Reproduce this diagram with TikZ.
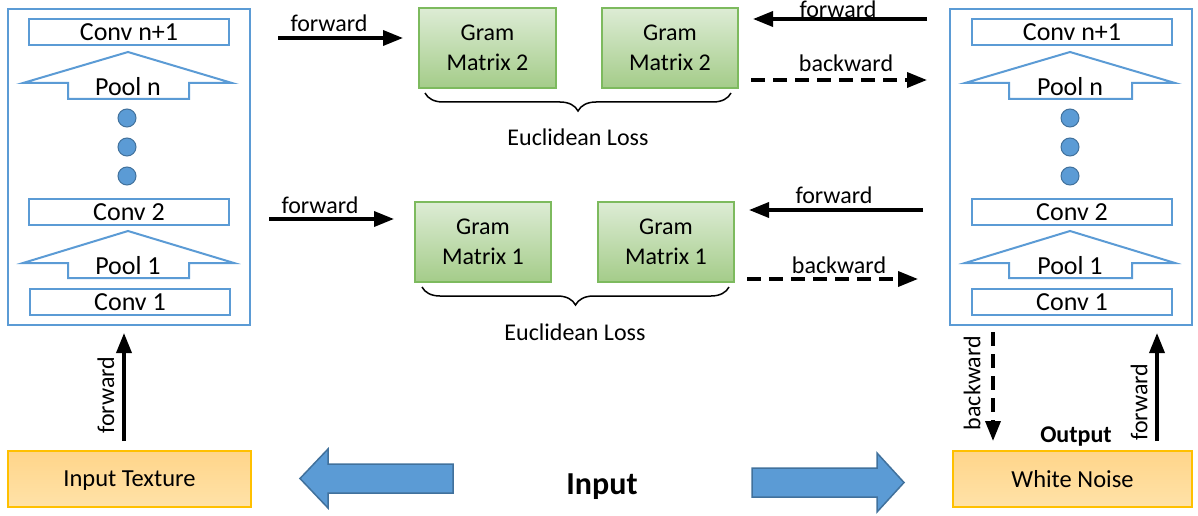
\documentclass[tikz,border=0pt]{standalone}
\usepackage{fontspec}
\setmainfont{Carlito}
\usetikzlibrary{arrows.meta,decorations.pathreplacing,calc}
\definecolor{netblue}{HTML}{5B9BD5}
\definecolor{darkblue}{HTML}{41719C}
\definecolor{gborder}{HTML}{7DBA5E}
\definecolor{gtop}{HTML}{DDECD5}
\definecolor{gbot}{HTML}{A4CC89}
\definecolor{otop}{HTML}{FFD58A}
\definecolor{obot}{HTML}{FFE2A8}
\definecolor{oborder}{HTML}{FFC000}
\begin{document}
\begin{tikzpicture}[x=1pt,y=-1pt,
  lbl/.style={font=\fontsize{24}{26}\selectfont, inner sep=0pt},
  plbl/.style={font=\fontsize{26}{28}\selectfont, inner sep=0pt},
  outerbox/.style={draw=netblue, line width=2pt, minimum width=242pt, minimum height=316pt, inner sep=0pt},
  layer/.style={draw=netblue, line width=2pt, fill=white, font=\fontsize{26}{28}\selectfont, inner sep=0pt, minimum width=200pt, minimum height=26pt},
  poolshape/.style={draw=netblue, line width=2pt, fill=white, line join=miter},
  dot/.style={circle, draw=darkblue, line width=1pt, fill=netblue, minimum size=18pt, inner sep=0pt},
  gram/.style={draw=gborder, line width=1.5pt, top color=gtop, bottom color=gbot, minimum width=137pt, minimum height=80pt, inner sep=0pt, align=center, font=\fontsize{24}{30}\selectfont},
  databox/.style={draw=oborder, line width=1.5pt, top color=otop, bottom color=obot, minimum height=56pt, inner sep=0pt, text depth=0pt, font=\fontsize{24.5}{26}\selectfont},
  fwd/.style={line width=3.5pt, -{Triangle[length=20pt,width=15pt]}},
  bwd/.style={line width=3.5pt, dash pattern=on 14pt off 8pt, -{Triangle[length=20pt,width=15pt]}},
  bigarrow/.style={fill=netblue, draw=darkblue, line width=1.5pt, line join=miter},
  bracestyle/.style={line width=1.5pt, decorate, decoration={brace, mirror, amplitude=18pt, aspect=0.5}}
]
\useasboundingbox (0,0) rectangle (1198,516);

% ---------- left network ----------
\node[outerbox] (lnet) at (129,167) {};
\node[layer] (lconvn) at (129,32) {Conv n+1};
\draw[poolshape] (128,52) -- (232,83) -- (189,83) -- (189,99) -- (68,99) -- (68,83) -- (23,83) -- cycle;
\node[plbl] (lpooln) at (128,87) {Pool n};
\node[dot] (ld1) at (127,118) {};
\node[dot] (ld2) at (127,147) {};
\node[dot] (ld3) at (127,176) {};
\node[layer] (lconv2) at (129,212) {Conv 2};
\draw[poolshape] (128,231) -- (234,263) -- (189,263) -- (189,278) -- (68,278) -- (68,263) -- (23,263) -- cycle;
\node[plbl] (lpool1) at (128,266) {Pool 1};
\node[layer] (lconv1) at (130,302) {Conv 1};

% ---------- right network ----------
\node[outerbox] (rnet) at (1071,167) {};
\node[layer] (rconvn) at (1072,32) {Conv n+1};
\draw[poolshape] (1070,52) -- (1175,83) -- (1132,83) -- (1132,99) -- (1009,99) -- (1009,83) -- (965,83) -- cycle;
\node[plbl] (rpooln) at (1070,87) {Pool n};
\node[dot] (rd1) at (1070,118) {};
\node[dot] (rd2) at (1070,147) {};
\node[dot] (rd3) at (1070,176) {};
\node[layer] (rconv2) at (1072,212) {Conv 2};
\draw[poolshape] (1070,231) -- (1175,263) -- (1132,263) -- (1132,278) -- (1009,278) -- (1009,263) -- (965,263) -- cycle;
\node[plbl] (rpool1) at (1070,266) {Pool 1};
\node[layer] (rconv1) at (1072,302) {Conv 1};

% ---------- gram matrices ----------
\node[gram] (g2a) at (487.5,48) {Gram\\Matrix 2};
\node[gram, minimum width=136pt] (g2b) at (670,48) {Gram\\Matrix 2};
\node[gram, minimum width=136pt] (g1a) at (483,242) {Gram\\Matrix 1};
\node[gram, minimum width=136pt] (g1b) at (666,242) {Gram\\Matrix 1};

\draw[bracestyle] (425,93) -- (731,93);
\node[lbl] (loss2) at (578,137) {Euclidean Loss};
\draw[bracestyle] (422,287) -- (729,287);
\node[lbl] (loss1) at (575,332) {Euclidean Loss};

% ---------- data boxes ----------
\node[databox, minimum width=243pt] (intex) at (129.5,479) {Input Texture};
\node[databox, minimum width=239pt] (noise) at (1072.5,479) {White Noise};

% ---------- connector end points ----------
\coordinate (a1s) at (278,38);   \coordinate (a1e) at (403,38);
\coordinate (a2s) at (927,19);   \coordinate (a2e) at (753,19);
\coordinate (a3s) at (751,80);   \coordinate (a3e) at (927,80);
\coordinate (a4s) at (269,219);  \coordinate (a4e) at (394,219);
\coordinate (a5s) at (923,210);  \coordinate (a5e) at (749,210);
\coordinate (a6s) at (747,279);  \coordinate (a6e) at (918,279);
\coordinate (a7s) at (124,441);  \coordinate (a7e) at (124,333);
\coordinate (a8s) at (993,332);  \coordinate (a8e) at (993,441);
\coordinate (a9s) at (1157,441); \coordinate (a9e) at (1157,333);

\draw[fwd] (a1s) -- (a1e);
\draw[fwd] (a2s) -- (a2e);
\draw[bwd] (a3s) -- (a3e);
\draw[fwd] (a4s) -- (a4e);
\draw[fwd] (a5s) -- (a5e);
\draw[bwd] (a6s) -- (a6e);
\draw[fwd] (a7s) -- (a7e);
\draw[bwd] (a8s) -- (a8e);
\draw[fwd] (a9s) -- (a9e);

\node[lbl] (l1) at (329,23) {forward};
\node[lbl] (l2) at (838,9) {forward};
\node[lbl] (l3) at (846,63) {backward};
\node[lbl] (l4) at (320,205) {forward};
\node[lbl] (l5) at (834,195) {forward};
\node[lbl] (l6) at (839,265) {backward};
\node[lbl, rotate=90] (l7) at (106,395) {forward};
\node[lbl, rotate=90] (l8) at (972,383) {backward};
\node[lbl, rotate=90] (l9) at (1139,402) {forward};

\node[lbl, font=\fontsize{24}{26}\selectfont\bfseries] (outlbl) at (1076,437) {Output};
\node[lbl, font=\fontsize{32}{34}\selectfont\bfseries] (inlbl) at (602,487) {Input};

% ---------- big blue arrows ----------
\draw[bigarrow] (300,478.5) -- (328,449) -- (328,464) -- (453,464) -- (453,493) -- (328,493) -- (328,508) -- cycle;
\draw[bigarrow] (904,482.5) -- (877,453) -- (877,468) -- (752,468) -- (752,497) -- (877,497) -- (877,512) -- cycle;
\end{tikzpicture}
\end{document}
